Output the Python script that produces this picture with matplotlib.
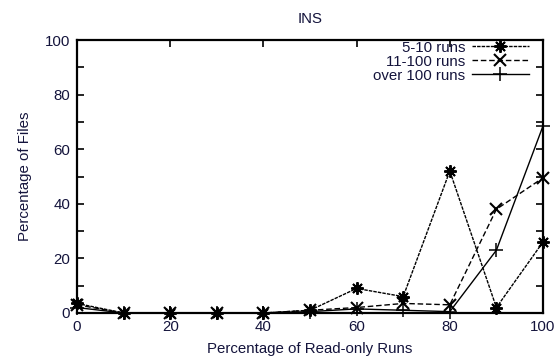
import matplotlib
matplotlib.use("Agg")
import matplotlib.pyplot as plt
from matplotlib.ticker import MultipleLocator

plt.rcParams['font.family'] = ['Liberation Sans', 'DejaVu Sans']

read_only_pct = [0, 10, 20, 30, 40, 50, 60, 70, 80, 90, 100]
runs_5_10 = [3.5, 0, 0, 0, 0, 1, 9, 6, 52, 2, 26]
runs_11_100 = [3, 0, 0, 0, 0, 1, 2, 3.5, 3, 38, 49.5]
runs_over_100 = [2, 0, 0, 0, 0, 0.5, 1.5, 1, 0.5, 23, 68.5]

x_ticks = [0, 20, 40, 60, 80, 100]
y_ticks = [0, 20, 40, 60, 80, 100]

text_color = '#14143c'
fs = 10.8

fig = plt.figure(figsize=(5.58, 3.57), dpi=100)
ax = fig.add_axes([77 / 558, 44 / 357, 466 / 558, 273 / 357])

asterisk = (8, 2, 0)
ax.plot(read_only_pct, runs_5_10, color='black', lw=1.0, ls=(0, (2.5, 0.8)),
        marker=asterisk, ms=9, mew=1.4, label='5-10 runs', clip_on=False)
ax.plot(read_only_pct, runs_11_100, color='black', lw=1.0, ls=(0, (4, 2)),
        marker='x', ms=8, mew=1.5, label='11-100 runs', clip_on=False)
ax.plot(read_only_pct, runs_over_100, color='black', lw=1.0, ls='-',
        marker='+', ms=10, mew=1.1, label='over 100 runs', clip_on=False)

ax.set_xlim(0, 100)
ax.set_ylim(0, 100)
ax.set_xticks(x_ticks)
ax.set_yticks(y_ticks)
ax.yaxis.set_minor_locator(MultipleLocator(10))
ax.tick_params(which='both', direction='in', top=True, right=True,
               length=5, width=1.2, colors='black', labelcolor=text_color,
               labelsize=fs, pad=5)
for s in ax.spines.values():
    s.set_linewidth(1.6)

ax.set_title('INS', fontsize=fs, color=text_color, pad=12)
ax.set_xlabel('Percentage of Read-only Runs', fontsize=fs, color=text_color, labelpad=6)
ax.set_ylabel('Percentage of Files', fontsize=fs, color=text_color, labelpad=9)

leg = ax.legend(loc='upper right', bbox_to_anchor=(0.985, 1.025), frameon=False,
                markerfirst=False, handlelength=3.8, handletextpad=0.4,
                labelspacing=0.0, fontsize=fs, borderpad=0.0)
for t in leg.get_texts():
    t.set_color(text_color)

fig.savefig('out.png', dpi=100)
